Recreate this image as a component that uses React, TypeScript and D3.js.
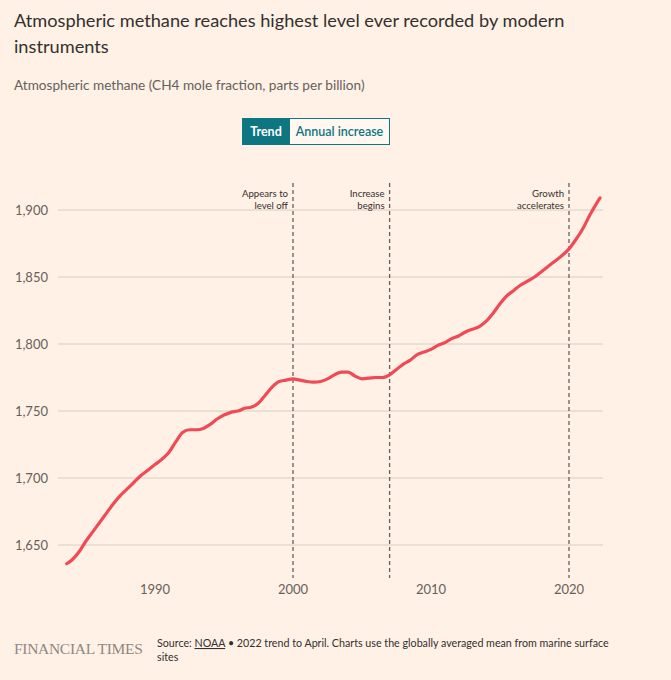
import React from "react";
import * as d3 from "d3";

const years: number[] = [
  1983.6, 1984.0, 1984.5, 1985.0, 1985.5, 1986.0, 1986.5, 1987.0, 1987.5, 1988.0,
  1988.5, 1989.0, 1989.5, 1990.0, 1990.5, 1991.0, 1991.5, 1992.0, 1992.5, 1993.0,
  1993.5, 1994.0, 1994.5, 1995.0, 1995.5, 1996.0, 1996.5, 1997.0, 1997.5, 1998.0,
  1998.5, 1999.0, 1999.5, 2000.0, 2000.5, 2001.0, 2001.5, 2002.0, 2002.5, 2003.0,
  2003.5, 2004.0, 2004.5, 2005.0, 2005.5, 2006.0, 2006.5, 2007.0, 2007.5, 2008.0,
  2008.5, 2009.0, 2009.5, 2010.0, 2010.5, 2011.0, 2011.5, 2012.0, 2012.5, 2013.0,
  2013.5, 2014.0, 2014.5, 2015.0, 2015.5, 2016.0, 2016.5, 2017.0, 2017.5, 2018.0,
  2018.5, 2019.0, 2019.5, 2020.0, 2020.5, 2021.0, 2021.5, 2022.0, 2022.25,
];
const methane: number[] = [
  1636, 1639, 1645, 1653, 1660, 1667, 1674, 1681, 1687, 1692,
  1697, 1702, 1706, 1710, 1714, 1719, 1727, 1734, 1736, 1736,
  1737, 1740, 1744, 1747, 1749, 1750, 1752, 1753, 1756, 1762,
  1768, 1772, 1773, 1774, 1773, 1772, 1771.5, 1772, 1774, 1777,
  1779, 1779, 1776, 1774, 1774.5, 1775, 1775, 1777, 1781, 1785,
  1788, 1792, 1794, 1796, 1799, 1801, 1804, 1806, 1809, 1811,
  1813, 1817, 1823, 1830, 1836, 1840, 1844, 1847, 1850, 1854,
  1858, 1862, 1866, 1871, 1878, 1886, 1896, 1905, 1909,
];
const yTicks: number[] = [1650, 1700, 1750, 1800, 1850, 1900];
const xTicks: number[] = [1990, 2000, 2010, 2020];
const annotationYears: number[] = [2000, 2007, 2020];
const annotationLines: string[][] = [
  ["Appears to", "level off"],
  ["Increase", "begins"],
  ["Growth", "accelerates"],
];

const FONT = "Lato, 'Open Sans', sans-serif";

export default function App() {
  const W = 671;
  const H = 680;
  const x = d3.scaleLinear().domain([1983, 2022.5]).range([58.4, 603.5]);
  const y = d3.scaleLinear().domain([1650, 1900]).range([545, 210]);
  const data = years.map((yr, i) => ({ yr, v: methane[i] }));
  const line = d3
    .line<{ yr: number; v: number }>()
    .x((d) => x(d.yr))
    .y((d) => y(d.v))
    .curve(d3.curveMonotoneX);

  return (
    <svg
      width={W}
      height={H}
      style={{ position: "absolute", left: 0, top: 0, background: "#fff1e5" }}
      fontFamily={FONT}
    >
      <rect x={0} y={0} width={W} height={H} fill="#fff1e5" />
      <text x={14} y={27} fontSize={18.2} fill="#33302e">
        Atmospheric methane reaches highest level ever recorded by modern
      </text>
      <text x={14} y={53} fontSize={18.2} fill="#33302e">
        instruments
      </text>
      <text x={14} y={90} fontSize={13.6} fill="#66605c">
        Atmospheric methane (CH4 mole fraction, parts per billion)
      </text>

      {/* toggle buttons */}
      <rect x={289.5} y={118.5} width={100} height={26} fill="#fff7f0" stroke="#0d7680" />
      <rect x={242.5} y={118.5} width={47} height={26} fill="#0d7680" stroke="#0d7680" />
      <text x={266} y={136} fontSize={12.5} fontWeight={700} fill="#ffffff" textAnchor="middle">
        Trend
      </text>
      <text x={339.5} y={136} fontSize={12.5} fontWeight={600} fill="#0d7680" textAnchor="middle">
        Annual increase
      </text>

      {/* gridlines */}
      {yTicks.map((t) => (
        <g key={t}>
          <line x1={58} x2={603} y1={y(t)} y2={y(t)} stroke="#d8ccc1" strokeWidth={1} />
          <text x={48} y={y(t) + 4.5} fontSize={13} fill="#66605c" textAnchor="end">
            {d3.format(",")(t)}
          </text>
        </g>
      ))}

      {/* x labels */}
      {xTicks.map((t) => (
        <text key={t} x={x(t)} y={594} fontSize={13} fill="#66605c" textAnchor="middle">
          {t}
        </text>
      ))}

      {/* annotations */}
      {annotationYears.map((a, i) => (
        <g key={a}>
          <line
            x1={x(a)}
            x2={x(a)}
            y1={183}
            y2={578}
            stroke="#66605c"
            strokeWidth={1.3}
            strokeDasharray="4,3"
          />
          {annotationLines[i].map((s, j) => (
            <text
              key={j}
              x={x(a) - 5}
              y={197 + j * 12}
              fontSize={9.6}
              fill="#33302e"
              textAnchor="end"
            >
              {s}
            </text>
          ))}
        </g>
      ))}

      {/* data line */}
      <path d={line(data) || ""} fill="none" stroke="#f04a57" strokeWidth={3.2} strokeLinecap="round" />

      {/* footer */}
      <text x={14} y={654} fontSize={15.5} fill="#8f8782" fontFamily="'Liberation Serif', 'DejaVu Serif', serif" letterSpacing={-0.3}>
        FINANCIAL TIMES
      </text>
      <text x={157} y={647} fontSize={10.7} fill="#33302e">
        Source: <tspan style={{ textDecoration: "underline" }}>NOAA</tspan> • 2022 trend to April. Charts use the globally averaged mean from marine surface
      </text>
      <text x={157} y={661} fontSize={10.7} fill="#33302e">
        sites
      </text>
    </svg>
  );
}
